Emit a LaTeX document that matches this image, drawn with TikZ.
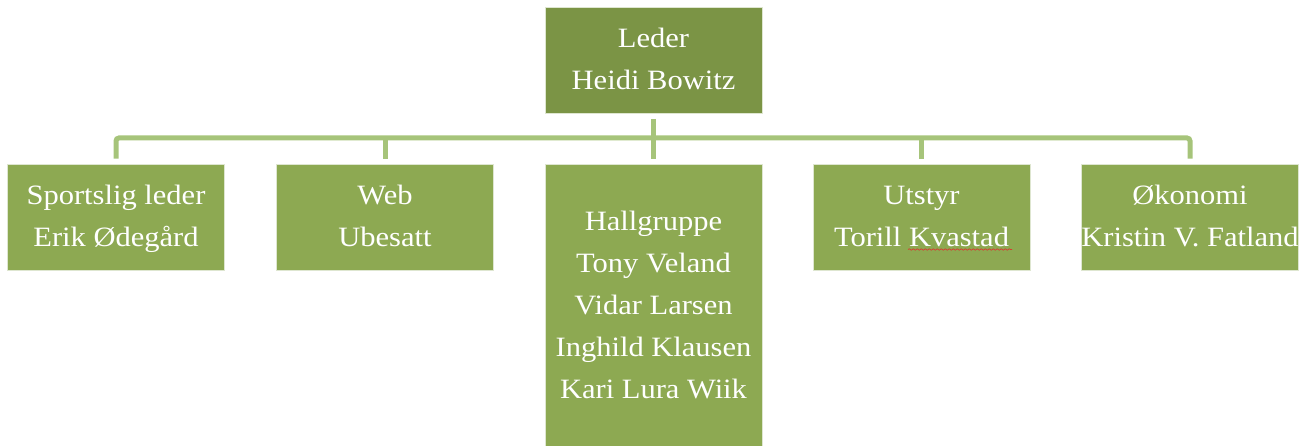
\documentclass[tikz,border=0pt]{standalone}
\usepackage{fontspec}
\setmainfont[FakeStretch=1.09]{Liberation Serif}
\usetikzlibrary{decorations.pathmorphing}
\definecolor{topg}{RGB}{123,148,69}
\definecolor{subg}{RGB}{141,169,82}
\definecolor{lineg}{RGB}{166,196,122}
\definecolor{edgeg}{RGB}{222,230,208}
\definecolor{spellred}{RGB}{215,60,50}
\begin{document}
\begin{tikzpicture}[x=1pt,y=-1pt,
  box/.style={draw=edgeg, line width=0.8pt, inner sep=0pt, minimum width=217pt, text=white, align=center,
    font=\fontsize{28}{42}\selectfont},
  conn/.style={draw=lineg, line width=5pt},
  squig/.style={draw=spellred, line width=0.7pt, decorate, decoration={snake, amplitude=0.7pt, segment length=4pt}}]
\useasboundingbox (0,0) rectangle (1314,446);
\node[box, fill=topg, minimum height=106pt] (leder) at (653.5,60.5) {\strut Leder\\Heidi Bowitz\strut};
\node[box, fill=subg, minimum height=106pt] (c1) at (116,217) {\strut Sportslig leder\\Erik Ødegård\strut};
\node[box, fill=subg, minimum height=106pt] (c2) at (385,217) {\strut Web\\Ubesatt\strut};
\node[box, fill=subg, minimum height=284pt] (c3) at (653.5,306) {\strut Hallgruppe\\Tony Veland\\Vidar Larsen\\Inghild Klausen\\Kari Lura Wiik\strut};
\node[box, fill=subg, minimum height=106pt] (c4) at (921.5,217) {\strut Utstyr\\Torill Kvastad\strut};
\node[box, fill=subg, minimum height=106pt] (c5) at (1190,217) {\strut Økonomi\\Kristin V. Fatland\strut};
\coordinate (hub) at (653.5,138);
\draw[conn] ([yshift=-5pt]leder.south) -- ([yshift=5pt]c3.north);
\draw[conn, rounded corners=3pt] ([yshift=5pt]c1.north) |- (hub) -| ([yshift=5pt]c5.north);
\draw[conn] ([yshift=5pt]c2.north) -- (c2.north |- hub);
\draw[conn] ([yshift=5pt]c4.north) -- (c4.north |- hub);
\draw[squig] (908,249.5) -- (1012,249.5);
\end{tikzpicture}
\end{document}
